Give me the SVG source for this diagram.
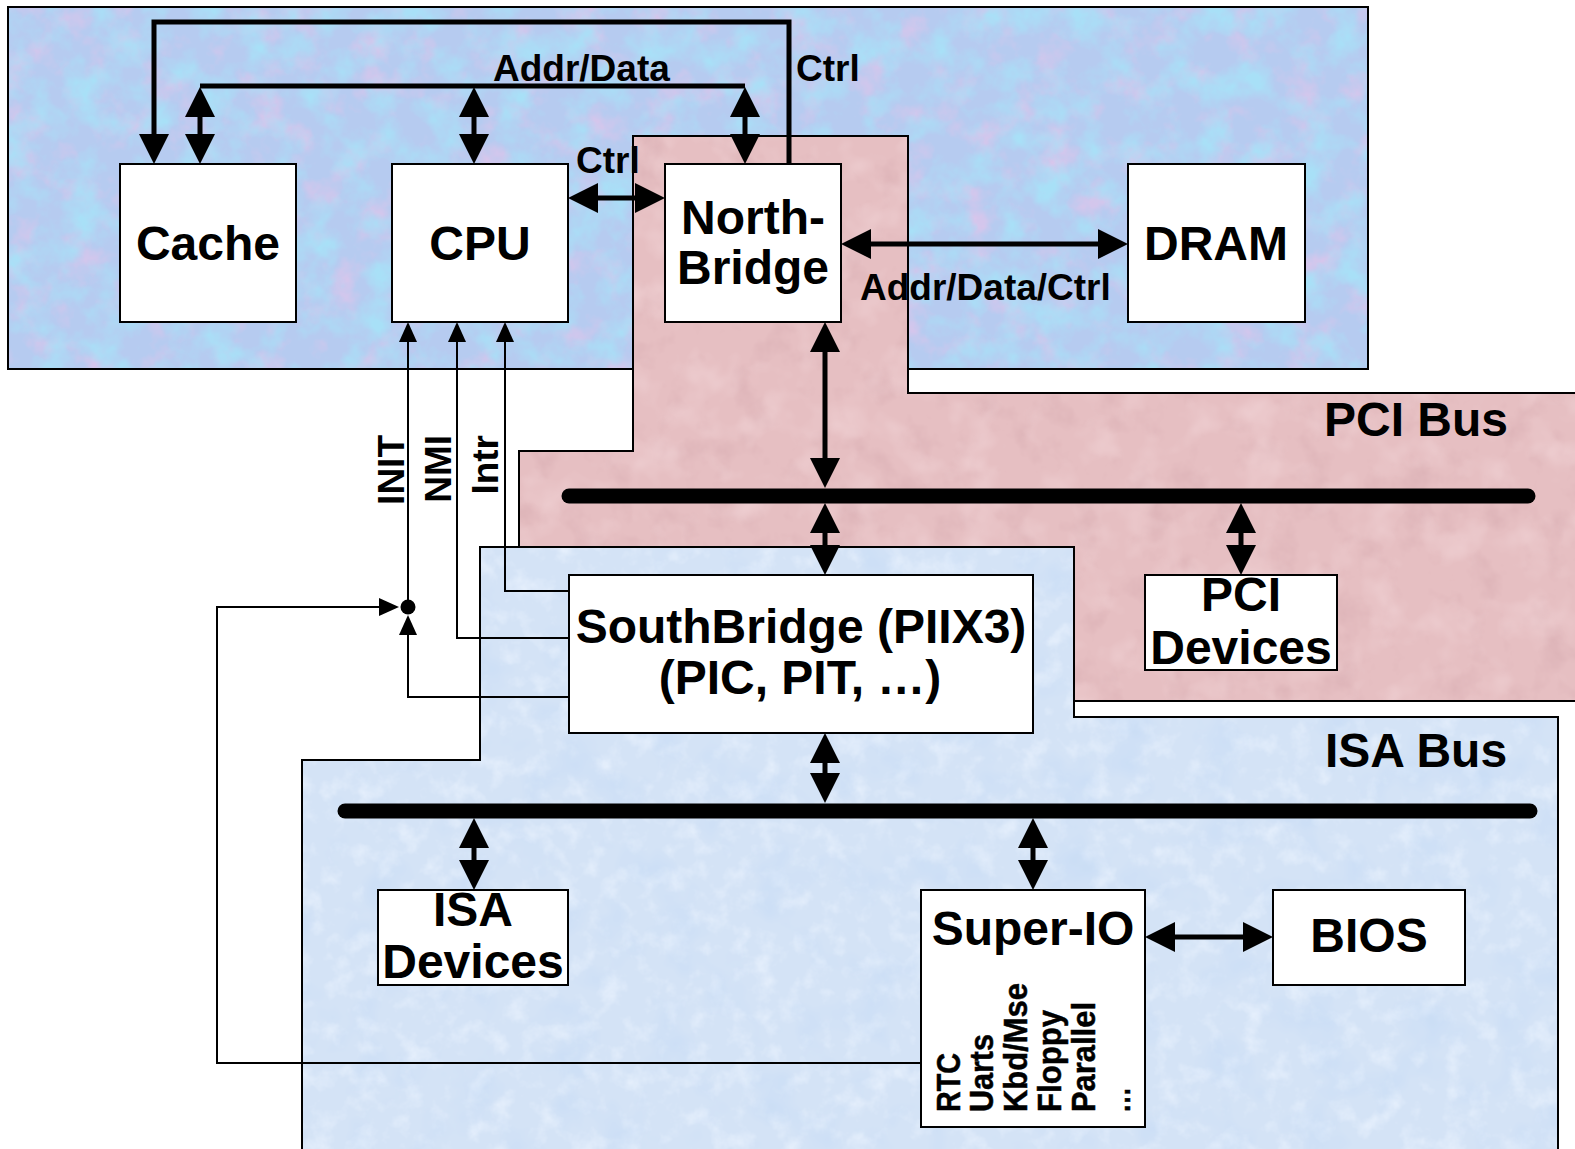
<svg xmlns="http://www.w3.org/2000/svg" width="1575" height="1149" viewBox="0 0 1575 1149">
<style>
text{font-family:"Liberation Sans",Arial,Helvetica,sans-serif;font-weight:bold;fill:#000}
.node{font-size:48px;text-anchor:middle}
.lbl{font-size:37px}
.sub{font-size:34px;stroke:#000;stroke-width:0.5}
.box{fill:#fff;stroke:#000;stroke-width:2}
.outline{fill:none;stroke:#000;stroke-width:2}
.thick{fill:none;stroke:#000;stroke-width:5}
.thin{fill:none;stroke:#000;stroke-width:2}
.bus{fill:none;stroke:#000;stroke-width:15;stroke-linecap:round}
</style>
<defs>
<marker id="ah" markerUnits="userSpaceOnUse" markerWidth="32" markerHeight="32" viewBox="0 -16 32 32" refX="2" refY="0" orient="auto-start-reverse">
<path d="M0,-15 L30,0 L0,15 Z" fill="#000"/>
</marker>
<marker id="ahs" markerUnits="userSpaceOnUse" markerWidth="22" markerHeight="20" viewBox="0 -10 22 20" refX="1" refY="0" orient="auto-start-reverse">
<path d="M0,-9 L20,0 L0,9 Z" fill="#000"/>
</marker>
<filter id="texTop" x="0" y="0" width="100%" height="100%" color-interpolation-filters="sRGB">
<feTurbulence type="fractalNoise" baseFrequency="0.028" numOctaves="4" seed="7" result="n1"/>
<feColorMatrix in="n1" type="matrix" values="0 0 0 0 0.88 0 0 0 0 0.77 0 0 0 0 0.92 2.2 0 0 0 -1.08" result="pink"/>
<feTurbulence type="fractalNoise" baseFrequency="0.03" numOctaves="4" seed="21" result="n2"/>
<feColorMatrix in="n2" type="matrix" values="0 0 0 0 0.66 0 0 0 0 0.88 0 0 0 0 0.97 2.4 0 0 0 -1.0" result="cyan"/>
<feMerge result="m"><feMergeNode in="SourceGraphic"/><feMergeNode in="pink"/><feMergeNode in="cyan"/></feMerge>
<feComposite in="m" in2="SourceGraphic" operator="in"/>
</filter>
<filter id="texPink" x="0" y="0" width="100%" height="100%" color-interpolation-filters="sRGB">
<feTurbulence type="fractalNoise" baseFrequency="0.03" numOctaves="4" seed="3" result="n1"/>
<feColorMatrix in="n1" type="matrix" values="0 0 0 0 0.84 0 0 0 0 0.67 0 0 0 0 0.69 1.4 0 0 0 -0.72" result="d"/>
<feTurbulence type="fractalNoise" baseFrequency="0.025" numOctaves="3" seed="11" result="n2"/>
<feColorMatrix in="n2" type="matrix" values="0 0 0 0 0.95 0 0 0 0 0.84 0 0 0 0 0.85 1.4 0 0 0 -0.68" result="l"/>
<feMerge result="m"><feMergeNode in="SourceGraphic"/><feMergeNode in="d"/><feMergeNode in="l"/></feMerge>
<feComposite in="m" in2="SourceGraphic" operator="in"/>
</filter>
<filter id="texIsa" x="0" y="0" width="100%" height="100%" color-interpolation-filters="sRGB">
<feTurbulence type="fractalNoise" baseFrequency="0.045" numOctaves="4" seed="5" result="n1"/>
<feColorMatrix in="n1" type="matrix" values="0 0 0 0 0.93 0 0 0 0 0.96 0 0 0 0 1 1.6 0 0 0 -0.78" result="w"/>
<feTurbulence type="fractalNoise" baseFrequency="0.02" numOctaves="3" seed="17" result="n2"/>
<feColorMatrix in="n2" type="matrix" values="0 0 0 0 0.76 0 0 0 0 0.85 0 0 0 0 0.96 1.3 0 0 0 -0.66" result="b"/>
<feMerge result="m"><feMergeNode in="SourceGraphic"/><feMergeNode in="w"/><feMergeNode in="b"/></feMerge>
<feComposite in="m" in2="SourceGraphic" operator="in"/>
</filter>
</defs>
<rect width="1575" height="1149" fill="#fff"/>
<g id="panels">
<g id="panel-cpu">
<rect x="8" y="7" width="1360" height="362" fill="#b6cbf0" filter="url(#texTop)"/>
<rect x="8" y="7" width="1360" height="362" class="outline"/>
</g>
<g id="panel-pci">
<polygon points="633,136 908,136 908,393 1585,393 1585,701 1074,701 1074,547 519,547 519,451 633,451" fill="#e6bfc2" filter="url(#texPink)"/>
<polygon points="633,136 908,136 908,393 1585,393 1585,701 1074,701 1074,547 519,547 519,451 633,451" class="outline"/>
</g>
<g id="panel-isa">
<polygon points="480,547 1074,547 1074,717 1558,717 1558,1165 302,1165 302,760 480,760" fill="#d4e3f6" filter="url(#texIsa)"/>
<polygon points="480,547 1074,547 1074,717 1558,717 1558,1165 302,1165 302,760 480,760" class="outline"/>
</g>
<text class="node" x="1416" y="436">PCI Bus</text>
<text class="node" x="1416" y="767">ISA Bus</text>
</g>
<g id="buses">
<path id="pci-bus" class="bus" d="M569,496 H1528"/>
<path id="isa-bus" class="bus" d="M345,811 H1530"/>
</g>
<g id="connectors">
<path class="thick" d="M789,166 V22 H154 V136" marker-end="url(#ah)"/>
<path class="thick" d="M200,86 H745"/>
<path class="thick" d="M200,115 V136" marker-start="url(#ah)" marker-end="url(#ah)"/>
<path class="thick" d="M474,115 V136" marker-start="url(#ah)" marker-end="url(#ah)"/>
<path class="thick" d="M745,115 V136" marker-start="url(#ah)" marker-end="url(#ah)"/>
<path class="thick" d="M596,198 H637" marker-start="url(#ah)" marker-end="url(#ah)"/>
<path class="thick" d="M869,244 H1100" marker-start="url(#ah)" marker-end="url(#ah)"/>
<path class="thick" d="M825,350 V460" marker-start="url(#ah)" marker-end="url(#ah)"/>
<path class="thick" d="M825,531 V547" marker-start="url(#ah)" marker-end="url(#ah)"/>
<path class="thick" d="M1241,531 V547" marker-start="url(#ah)" marker-end="url(#ah)"/>
<path class="thick" d="M825,761 V775" marker-start="url(#ah)" marker-end="url(#ah)"/>
<path class="thick" d="M474,846 V862" marker-start="url(#ah)" marker-end="url(#ah)"/>
<path class="thick" d="M1033,846 V862" marker-start="url(#ah)" marker-end="url(#ah)"/>
<path class="thick" d="M1173,937 H1245" marker-start="url(#ah)" marker-end="url(#ah)"/>
<path class="thin" d="M408,600 V341" marker-end="url(#ahs)"/>
<path class="thin" d="M569,638 H457 V341" marker-end="url(#ahs)"/>
<path class="thin" d="M569,591 H505 V341" marker-end="url(#ahs)"/>
<path class="thin" d="M569,697 H408 V634" marker-end="url(#ahs)"/>
<path class="thin" d="M921,1063 H217 V607 H380" marker-end="url(#ahs)"/>
<circle cx="408" cy="607" r="7.5" fill="#000"/>
<text class="lbl" x="493" y="81">Addr/Data</text>
<text class="lbl" x="796" y="81">Ctrl</text>
<text class="lbl" x="576" y="173">Ctrl</text>
<text class="lbl" x="860" y="300">Addr/Data/Ctrl</text>
<text class="lbl" transform="translate(404,435) rotate(-90)" text-anchor="end">INIT</text>
<text class="lbl" transform="translate(451,435) rotate(-90)" text-anchor="end">NMI</text>
<text class="lbl" transform="translate(498,435) rotate(-90)" text-anchor="end">Intr</text>
</g>
<g id="node-cache">
<rect class="box" x="120" y="164" width="176" height="158"/>
<text class="node" x="208" y="260">Cache</text>
</g>
<g id="node-cpu">
<rect class="box" x="392" y="164" width="176" height="158"/>
<text class="node" x="480" y="260">CPU</text>
</g>
<g id="node-northbridge">
<rect class="box" x="665" y="164" width="176" height="158"/>
<text class="node" x="753" y="234">North-</text>
<text class="node" x="753" y="284">Bridge</text>
</g>
<g id="node-dram">
<rect class="box" x="1128" y="164" width="177" height="158"/>
<text class="node" x="1216" y="260">DRAM</text>
</g>
<g id="node-southbridge">
<rect class="box" x="569" y="575" width="464" height="158"/>
<text class="node" x="801" y="643">SouthBridge (PIIX3)</text>
<text class="node" x="800" y="694">(PIC, PIT, …)</text>
</g>
<g id="node-pci-devices">
<rect class="box" x="1145" y="575" width="192" height="95"/>
<text class="node" x="1241" y="611">PCI</text>
<text class="node" x="1241" y="664">Devices</text>
</g>
<g id="node-isa-devices">
<rect class="box" x="378" y="890" width="190" height="95"/>
<text class="node" x="473" y="926">ISA</text>
<text class="node" x="473" y="978">Devices</text>
</g>
<g id="node-superio">
<rect class="box" x="921" y="890" width="224" height="237"/>
<text class="node" x="1033" y="945">Super-IO</text>
<text class="sub" transform="translate(960,1112) rotate(-90)" textLength="59" lengthAdjust="spacingAndGlyphs">RTC</text>
<text class="sub" transform="translate(993,1112) rotate(-90)" textLength="78" lengthAdjust="spacingAndGlyphs">Uarts</text>
<text class="sub" transform="translate(1027,1112) rotate(-90)" textLength="129" lengthAdjust="spacingAndGlyphs">Kbd/Mse</text>
<text class="sub" transform="translate(1061,1112) rotate(-90)" textLength="102" lengthAdjust="spacingAndGlyphs">Floppy</text>
<text class="sub" transform="translate(1095,1112) rotate(-90)" textLength="110" lengthAdjust="spacingAndGlyphs">Parallel</text>
<text class="sub" transform="translate(1130,1113) rotate(-90)" textLength="26" lengthAdjust="spacingAndGlyphs">…</text>
</g>
<g id="node-bios">
<rect class="box" x="1273" y="890" width="192" height="95"/>
<text class="node" x="1369" y="952">BIOS</text>
</g>
</svg>
